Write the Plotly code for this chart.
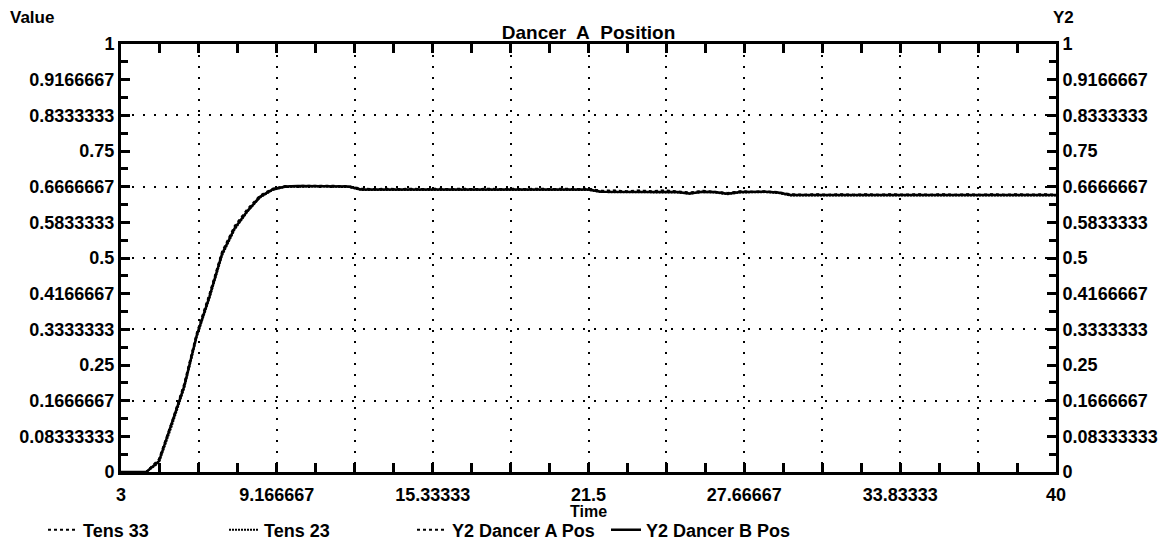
import plotly.graph_objects as go

# ---------------- data ----------------
time = [3.0, 3.5, 4.0, 4.5, 5.0, 5.5, 6.0, 6.5, 7.0, 7.5, 8.0, 8.5, 9.0, 9.5,
        10.0, 10.5, 11.0, 11.5, 12.0, 12.5, 13.0, 13.5, 14.0, 14.5, 15.0, 15.5,
        16.0, 16.5, 17.0, 17.5, 18.0, 18.5, 19.0, 19.5, 20.0, 20.5, 21.0, 21.5,
        22.0, 22.5, 23.0, 23.5, 24.0, 24.5, 25.0, 25.5, 26.0, 26.5, 27.0, 27.5,
        28.0, 28.5, 29.0, 29.5, 30.0, 30.5, 31.0, 31.5, 32.0, 32.5, 33.0, 33.5,
        34.0, 34.5, 35.0, 35.5, 36.0, 36.5, 37.0, 37.5, 38.0, 38.5, 39.0, 39.5,
        40.0]

tens33 = [0.0, 0.0, 0.0, 0.028, 0.112, 0.203, 0.322, 0.413, 0.512, 0.572,
          0.612, 0.644, 0.661, 0.667, 0.668, 0.668, 0.668, 0.668, 0.667, 0.661,
          0.660, 0.661, 0.660, 0.661, 0.660, 0.661, 0.660, 0.661, 0.660, 0.661,
          0.660, 0.661, 0.660, 0.661, 0.660, 0.661, 0.660, 0.661, 0.656, 0.657,
          0.655, 0.657, 0.655, 0.657, 0.655, 0.652, 0.656, 0.654, 0.651, 0.655,
          0.654, 0.655, 0.653, 0.648, 0.647, 0.648, 0.647, 0.648, 0.647, 0.648,
          0.647, 0.648, 0.647, 0.648, 0.647, 0.648, 0.647, 0.648, 0.647, 0.648,
          0.647, 0.648, 0.647, 0.648, 0.647]

tens23 = [0.0, 0.0, 0.0, 0.022, 0.106, 0.196, 0.316, 0.406, 0.506, 0.567,
          0.608, 0.641, 0.659, 0.666, 0.667, 0.667, 0.667, 0.667, 0.666, 0.659,
          0.659, 0.659, 0.659, 0.659, 0.659, 0.659, 0.659, 0.659, 0.659, 0.659,
          0.659, 0.659, 0.659, 0.659, 0.659, 0.659, 0.659, 0.659, 0.654, 0.654,
          0.654, 0.654, 0.654, 0.654, 0.653, 0.650, 0.654, 0.653, 0.649, 0.653,
          0.653, 0.654, 0.652, 0.646, 0.646, 0.646, 0.646, 0.646, 0.646, 0.646,
          0.646, 0.646, 0.646, 0.646, 0.646, 0.646, 0.646, 0.646, 0.646, 0.646,
          0.646, 0.646, 0.646, 0.646, 0.646]

dancer_a = [0.0, 0.0, 0.0, 0.030, 0.115, 0.206, 0.325, 0.416, 0.515, 0.575,
            0.614, 0.646, 0.662, 0.668, 0.669, 0.669, 0.669, 0.669, 0.668, 0.662,
            0.661, 0.662, 0.661, 0.662, 0.661, 0.662, 0.661, 0.662, 0.661, 0.662,
            0.661, 0.662, 0.661, 0.662, 0.661, 0.662, 0.661, 0.662, 0.657, 0.658,
            0.656, 0.658, 0.656, 0.658, 0.656, 0.653, 0.657, 0.655, 0.652, 0.656,
            0.655, 0.656, 0.654, 0.649, 0.648, 0.649, 0.648, 0.649, 0.648, 0.649,
            0.648, 0.649, 0.648, 0.649, 0.648, 0.649, 0.648, 0.649, 0.648, 0.649,
            0.648, 0.649, 0.648, 0.649, 0.648]

dancer_b = [0.0, 0.0, 0.0, 0.025, 0.110, 0.200, 0.320, 0.410, 0.510, 0.570,
            0.610, 0.643, 0.660, 0.667, 0.668, 0.668, 0.668, 0.668, 0.667, 0.660,
            0.660, 0.660, 0.660, 0.660, 0.660, 0.660, 0.660, 0.660, 0.660, 0.660,
            0.660, 0.660, 0.660, 0.660, 0.660, 0.660, 0.660, 0.660, 0.655, 0.655,
            0.655, 0.655, 0.655, 0.655, 0.654, 0.651, 0.655, 0.654, 0.650, 0.654,
            0.654, 0.655, 0.653, 0.647, 0.647, 0.647, 0.647, 0.647, 0.647, 0.647,
            0.647, 0.647, 0.647, 0.647, 0.647, 0.647, 0.647, 0.647, 0.647, 0.647,
            0.647, 0.647, 0.647, 0.647, 0.647]

x_tickvals = [3.0, 9.166667, 15.33333, 21.5, 27.66667, 33.83333, 40.0]
x_ticktext = ["3", "9.166667", "15.33333", "21.5", "27.66667", "33.83333", "40"]
x_gridvals = [3.0, 6.083333, 9.166667, 12.25, 15.33333, 18.41667, 21.5,
              24.58333, 27.66667, 30.75, 33.83333, 36.91667, 40.0]
y_tickvals = [0, 1/12, 2/12, 3/12, 4/12, 5/12, 6/12, 7/12, 8/12, 9/12,
              10/12, 11/12, 1]
y_ticktext = ["0", "0.08333333", "0.1666667", "0.25", "0.3333333",
              "0.4166667", "0.5", "0.5833333", "0.6666667", "0.75",
              "0.8333333", "0.9166667", "1"]
y_gridvals = [1/6, 2/6, 3/6, 4/6, 5/6]

FONT = "Liberation Sans"
W, H = 1173, 542
L, R, T, B = 121, 117, 44, 70
PW, PH = W - L - R, H - T - B

fig = go.Figure()
fig.add_trace(go.Scatter(x=time, y=tens33, name="Tens 33", mode="lines",
                         line=dict(color="black", width=2, dash="dot"),
                         legend="legend", xaxis="x2", yaxis="y2", showlegend=True))
fig.add_trace(go.Scatter(x=time, y=tens23, name="Tens 23", mode="lines",
                         line=dict(color="black", width=2, dash="2px,1px"),
                         legend="legend2", xaxis="x", yaxis="y", showlegend=True))
fig.add_trace(go.Scatter(x=time, y=dancer_a, name="Y2 Dancer A Pos", mode="lines",
                         line=dict(color="black", width=2, dash="dot"),
                         legend="legend3", xaxis="x2", yaxis="y3", showlegend=True))
fig.add_trace(go.Scatter(x=time, y=dancer_b, name="Y2 Dancer B Pos", mode="lines",
                         line=dict(color="black", width=2.5),
                         legend="legend4", xaxis="x2", yaxis="y3", showlegend=True))

axis_common = dict(showline=True, linewidth=3, linecolor="black",
                   ticks="inside", ticklen=9, tickwidth=2.5, tickcolor="black",
                   zeroline=False, automargin=False, showgrid=False)
minor_common = dict(ticks="inside", ticklen=7, tickwidth=2.5,
                    tickcolor="black", showgrid=False)
grid_common = dict(showticklabels=False, ticks="", showline=False, zeroline=False,
                   automargin=False, showgrid=True, gridcolor="black",
                   gridwidth=2, griddash="2px,9px")

fig.update_layout(
    width=W, height=H,
    margin=dict(l=L, r=R, t=T, b=B, autoexpand=False),
    showlegend=True,
    paper_bgcolor="white", plot_bgcolor="white",
    font=dict(family=FONT, size=18, color="black", weight="bold"),
    title=dict(text="Dancer&nbsp; A&nbsp; Position", x=(L + PW / 2) / W,
               xanchor="center", xref="container", yref="container",
               y=1 - 32 / H, yanchor="middle",
               font=dict(family=FONT, size=19, weight="bold")),
    # main axes: grid only
    xaxis=dict(range=[3, 40], tickmode="array", tickvals=x_gridvals, **grid_common),
    yaxis=dict(range=[0, 1], tickmode="array", tickvals=y_gridvals, **grid_common),
    # labelled axes
    xaxis2=dict(range=[3, 40], overlaying="x", side="bottom", anchor="y2",
                tickmode="array", tickvals=x_tickvals, ticktext=x_ticktext,
                mirror="allticks", tickfont=dict(size=18), ticklabelstandoff=4,
                minor=dict(tickmode="linear", tick0=3, dtick=1.5416667, **minor_common),
                **axis_common),
    yaxis2=dict(range=[0, 1], overlaying="y", side="left", anchor="x2",
                tickmode="array", tickvals=y_tickvals, ticktext=y_ticktext,
                tickfont=dict(size=18),
                minor=dict(tickmode="linear", tick0=0, dtick=1/24, **minor_common),
                **axis_common),
    yaxis3=dict(range=[0, 1], overlaying="y", side="right", anchor="x2",
                tickmode="array", tickvals=y_tickvals, ticktext=y_ticktext,
                tickfont=dict(size=18),
                minor=dict(tickmode="linear", tick0=0, dtick=1/24, **minor_common),
                **axis_common),
    annotations=[
        dict(text="Value", xref="paper", yref="paper", x=(8 - L) / PW,
             y=(H - B - 17) / PH, xanchor="left", yanchor="middle",
             showarrow=False, font=dict(size=17)),
        dict(text="Y2", xref="paper", yref="paper", x=(1051 - L) / PW,
             y=(H - B - 18) / PH, xanchor="left", yanchor="middle",
             showarrow=False, font=dict(size=17)),
        dict(text="Time", xref="paper", yref="paper", x=0.5,
             y=(H - B - 511) / PH, xanchor="center", yanchor="middle",
             showarrow=False, font=dict(size=16)),
    ],
)

legend_text_x = [85, 266, 454, 648]
legend_keys = ["legend", "legend2", "legend3", "legend4"]
for key, lx in zip(legend_keys, legend_text_x):
    fig.update_layout({key: dict(orientation="h", xref="container", yref="container",
                                 x=(lx - 42) / W, y=1 - 530 / H, xanchor="left",
                                 yanchor="middle", bgcolor="rgba(0,0,0,0)",
                                 font=dict(family=FONT, size=18, weight="bold"),
                                 itemwidth=30, visible=True)})

fig.write_html("out.html")
